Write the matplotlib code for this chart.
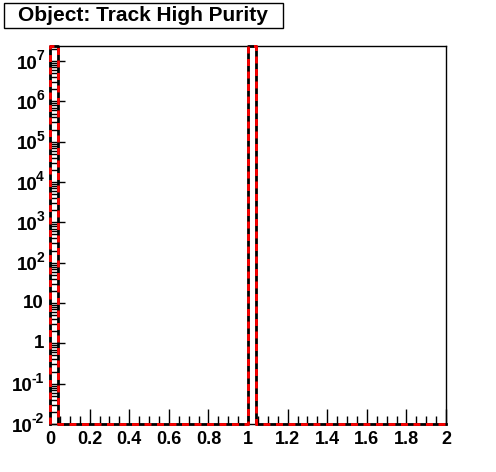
import numpy as np
import matplotlib

matplotlib.use("Agg")
import matplotlib.pyplot as plt
from matplotlib.patches import Rectangle
from matplotlib.ticker import FixedLocator, FixedFormatter, MultipleLocator, NullFormatter

plt.rcParams["font.family"] = ["Liberation Sans", "DejaVu Sans"]

TITLE = "Object: Track High Purity"
BIN_EDGES = np.linspace(0, 2, 51)
# two overlaid histograms (reference black, new red): all entries in bins [0,0.04) and [1,1.04)
COUNTS_REF = np.zeros(50)
COUNTS_REF[0] = 2.3e7
COUNTS_REF[25] = 2.3e7
COUNTS_NEW = COUNTS_REF.copy()

Y_MIN, Y_MAX = 1e-2, 2.36e7
Y_TICKS = [1e-2, 1e-1, 1, 10, 1e2, 1e3, 1e4, 1e5, 1e6, 1e7]
# (base, exponent) pairs; empty exponent means plain label
Y_BASES = ["10", "10", "1", "10", "10", "10", "10", "10", "10", "10"]
Y_EXPS = ["-2", "-1", "", "", "2", "3", "4", "5", "6", "7"]
X_TICKS = [0, 0.2, 0.4, 0.6, 0.8, 1, 1.2, 1.4, 1.6, 1.8, 2]
X_LABELS = ["0", "0.2", "0.4", "0.6", "0.8", "1", "1.2", "1.4", "1.6", "1.8", "2"]

W, H = 496, 472


def step_xy(edges, counts):
    vals = np.clip(counts, Y_MIN, None)
    xs = np.repeat(edges, 2)[1:-1]
    ys = np.repeat(vals, 2)
    xs = np.concatenate([[edges[0]], xs, [edges[-1]]])
    ys = np.concatenate([[Y_MIN], ys, [Y_MIN]])
    return xs, ys


fig = plt.figure(figsize=(W / 100, H / 100), dpi=100)
ax = fig.add_axes([50 / W, 1 - 424 / H, 396 / W, 378 / H])

xs, ys = step_xy(BIN_EDGES, COUNTS_REF)
ax.plot(xs, ys, color="black", lw=2, clip_on=False, zorder=3)
xs, ys = step_xy(BIN_EDGES, COUNTS_NEW)
ax.plot(xs, ys, color="red", lw=2, linestyle=(0, (2.5, 2)), clip_on=False, zorder=4)

ax.set_yscale("log")
ax.set_ylim(Y_MIN, Y_MAX)
ax.set_xlim(0, 2)

ax.yaxis.set_major_locator(FixedLocator(Y_TICKS))
ax.yaxis.set_major_formatter(NullFormatter())
ax.yaxis.set_minor_formatter(NullFormatter())
ax.xaxis.set_major_locator(FixedLocator(X_TICKS))
ax.xaxis.set_major_formatter(FixedFormatter(X_LABELS))
ax.xaxis.set_minor_locator(MultipleLocator(0.05))

ax.tick_params(which="both", direction="in", top=False, right=False, width=1, colors="black")
ax.tick_params(which="major", length=11, labelsize=13, pad=5)
ax.tick_params(which="minor", length=6)
for lbl in ax.get_xticklabels():
    lbl.set_fontweight("bold")
for s in ax.spines.values():
    s.set_linewidth(1)

# y tick labels in ROOT style: "10" with a raised exponent
renderer = fig.canvas.get_renderer()
ytrans = ax.get_yaxis_transform()
for val, base, exp in zip(Y_TICKS, Y_BASES, Y_EXPS):
    if exp:
        sup = ax.annotate(exp, (0, val), xycoords=ytrans, xytext=(-6, 5), textcoords="offset pixels",
                          ha="right", va="center", fontsize=10, fontweight="bold")
        wsup = sup.get_window_extent(renderer).width
        ax.annotate(base, (0, val), xycoords=ytrans, xytext=(-5 - wsup, -3), textcoords="offset pixels",
                    ha="right", va="center", fontsize=13.5, fontweight="bold")
    else:
        ax.annotate(base, (0, val), xycoords=ytrans, xytext=(-6, 0), textcoords="offset pixels",
                    ha="right", va="center", fontsize=13.5, fontweight="bold")

fig.patches.append(Rectangle((4 / W, 1 - 28 / H), 279 / W, 25 / H, transform=fig.transFigure,
                             facecolor="white", edgecolor="black", lw=1))
fig.text(143 / W, 1 - 21 / H, TITLE, ha="center", va="baseline", fontsize=15, fontweight="bold")

fig.savefig("out.png", dpi=100)
